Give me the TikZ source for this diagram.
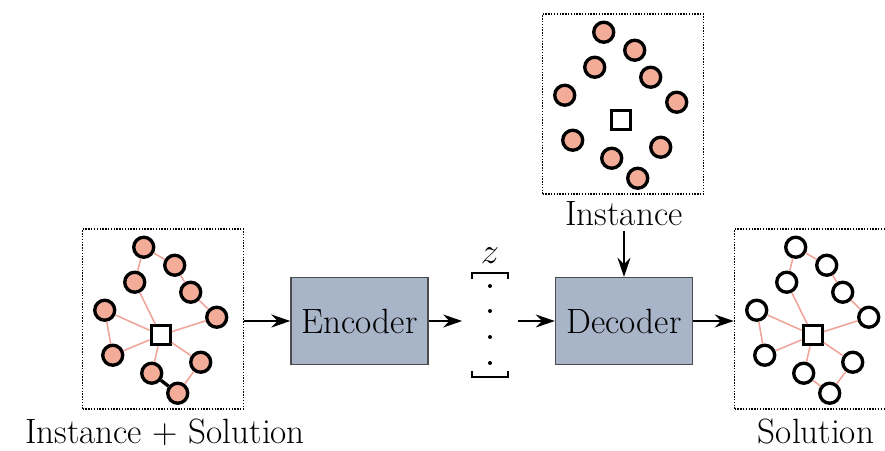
\documentclass[tikz,border=0pt]{standalone}
\usepackage{tikz}
\usetikzlibrary{positioning, arrows.meta}
\usepackage{xcolor}

\definecolor{custfill}{RGB}{242,172,152}
\definecolor{routecol}{RGB}{240,165,155}
\definecolor{blockfill}{RGB}{168,180,200}

\tikzset{
  cust/.style={circle, draw, line width=1.9pt, minimum size=0.4cm, inner sep=0pt},
  depot/.style={rectangle, draw, line width=1.9pt, fill=white, minimum size=0.38cm, inner sep=0pt},
  frame/.style={draw, dash pattern=on 0.8pt off 0.8pt, line width=0.9pt, minimum width=3.22cm, minimum height=3.6cm, inner sep=0pt},
  route/.style={draw=routecol, line width=0.9pt},
  block/.style={draw=black!70, line width=0.8pt, fill=blockfill, minimum width=2.74cm, minimum height=1.74cm, font=\fontsize{20}{24}\selectfont},
  lbl/.style={font=\fontsize{20}{24}\selectfont, anchor=base},
  flow/.style={-{Stealth[length=0.38cm, width=0.26cm]}, line width=1.1pt}
}

% customers + depot of one instance, #1 = prefix, #2 = fill
\newcommand{\vrpnodes}[2]{%
  \foreach \i/\px/\py in {1/62/19, 2/93/37, 3/53/54, 4/109/64, 5/23/82,
                          6/135/89, 7/31/127, 8/119/134, 9/70/145, 10/96/165}
    \node[cust, fill=#2] (#1\i) at (\px,\py) {};
  \node[depot] (#1s) at (79,107) {};
}

\begin{document}
\begin{tikzpicture}[x=0.02cm, y=-0.02cm]
  \useasboundingbox (0,0) rectangle (885,450);

  % instance + solution (left)
  \node[frame] (inL) at (163,319) {};
  \begin{scope}[shift={(inL.north west)}]
    \vrpnodes{L}{custfill}
  \end{scope}
  \foreach \a/\b in {s/3, 3/1, 1/2, 2/4, 4/6, 6/s, s/5, 5/7, 7/s, s/9, 10/8, 8/s}
    \draw[route] (L\a) -- (L\b);
  \draw[line width=1.9pt] (L9) -- (L10);
  \node[lbl] (labL) at (165,443) {Instance + Solution};

  % instance (top)
  \node[frame] (inT) at (623,104) {};
  \begin{scope}[shift={(inT.north west)}]
    \vrpnodes{T}{custfill}
  \end{scope}
  \node[lbl] (labT) at (624,225) {Instance};

  % solution (right)
  \node[frame] (inR) at (815,319) {};
  \begin{scope}[shift={(inR.north west)}]
    \vrpnodes{R}{white}
  \end{scope}
  \foreach \a/\b in {s/3, 3/1, 1/2, 2/4, 4/6, 6/s, s/5, 5/7, 7/s, s/9, 9/10, 10/8, 8/s}
    \draw[route] (R\a) -- (R\b);
  \node[lbl] (labR) at (816,443) {Solution};

  % encoder / latent / decoder
  \node[block] (enc) at (359.5,321) {Encoder};
  \node[block] (dec) at (624,321) {Decoder};
  \node[minimum width=1.1cm, minimum height=2.08cm, inner sep=0pt] (zvec) at (490,325) {};
  \draw[line width=0.8pt] (472,279) -- (472,273) -- (508,273) -- (508,279);
  \draw[line width=0.8pt] (472,371) -- (472,377) -- (508,377) -- (508,371);
  \foreach \y in {286,311,337,363}
    \fill (490,\y) circle (2);
  \node[font=\fontsize{20}{24}\selectfont] (zlab) at (490,256) {$z$};

  \draw[flow] (inL.east |- enc.west) -- (enc.west);
  \draw[flow] (enc.east) -- (zvec.west |- enc.east);
  \draw[flow] (zvec.east |- dec.west) -- (dec.west);
  \draw[flow] (dec.east) -- (inR.west |- dec.east);
  \draw[flow] (labT.south) -- (dec.north);
\end{tikzpicture}
\end{document}
